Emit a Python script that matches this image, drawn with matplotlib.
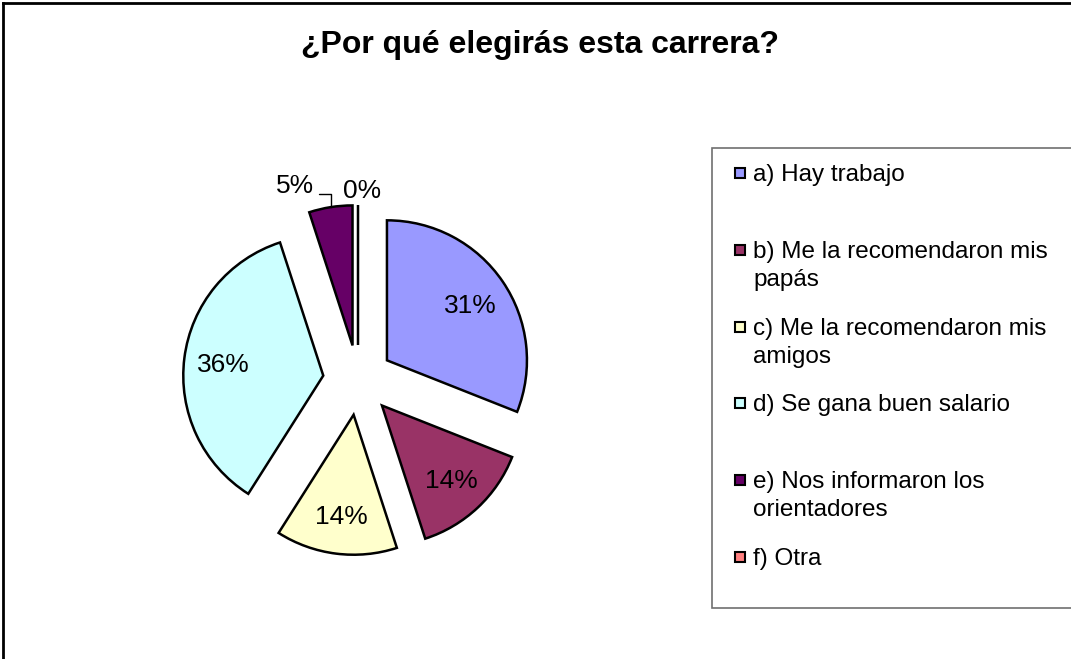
import numpy as np
import matplotlib
matplotlib.use('Agg')
import matplotlib.pyplot as plt
from matplotlib.patches import Rectangle
from matplotlib.lines import Line2D

plt.rcParams['font.family'] = ['Liberation Sans', 'DejaVu Sans']

# data
labels = ['a) Hay trabajo',
          'b) Me la recomendaron mis\npapás',
          'c) Me la recomendaron mis\namigos',
          'd) Se gana buen salario',
          'e) Nos informaron los\norientadores',
          'f) Otra']
values = [31, 14, 14, 36, 5, 0]
colors = ['#9999FF', '#993366', '#FFFFCC', '#CCFFFF', '#660066', '#FF8080']
title = '¿Por qué elegirás esta carrera?'

W, H = 1071, 659
fig = plt.figure(figsize=(W / 100, H / 100), dpi=100)

def fx(x):
    return x / W

def fy(y):
    return 1 - y / H

# outer chart border (only left and top visible)
fig.add_artist(Line2D([fx(3), fx(3)], [fy(3), 0], color='black', lw=2))
fig.add_artist(Line2D([fx(3), 1], [fy(3), fy(3)], color='black', lw=2))

fig.text(fx(540), fy(45), title, ha='center', va='center',
         fontsize=23, fontweight='bold')

# pie axes: centre at (358, 380) px, radius 140 px
cx, cy, R = 358, 380, 140
ax = fig.add_axes([fx(cx - 2 * R), fy(cy + 2 * R), 4 * R / W, 4 * R / H])

wedges, texts, autotexts = ax.pie(
    values, colors=colors, startangle=90, counterclock=False,
    explode=[0.25] * len(values), radius=1,
    autopct=lambda p: f'{p:.0f}%', pctdistance=0.72,
    wedgeprops=dict(edgecolor='black', linewidth=1.8),
    textprops=dict(fontsize=19, color='black'))
ax.set_xlim(-2, 2)
ax.set_ylim(-2, 2)
ax.axis('off')
for t in autotexts:
    t.set_va('center_baseline')

# small slices: move labels outside
e = wedges[4]
bis = np.deg2rad((e.theta1 + e.theta2) / 2)
ex, ey = 0.25 * np.cos(bis), 0.25 * np.sin(bis)
edge = (ex + np.cos(bis), ey + np.sin(bis))
lab5 = (1.46 * np.cos(bis + np.deg2rad(9)), 1.46 * np.sin(bis + np.deg2rad(9)))
autotexts[4].set_visible(False)
ax.annotate(autotexts[4].get_text(), xy=edge, xytext=lab5,
            ha='center', va='center', fontsize=19,
            arrowprops=dict(arrowstyle='-', color='black', lw=1,
                            relpos=(1.0, 0.15), patchA=None,
                            connectionstyle='angle,angleA=0,angleB=90,rad=0',
                            shrinkA=4, shrinkB=0))
f = wedges[5]
bisf = np.deg2rad((f.theta1 + f.theta2) / 2)
autotexts[5].set_position((1.37 * np.cos(bisf) + 0.03, 1.37 * np.sin(bisf)))

# legend box drawn by hand
fig.add_artist(Rectangle((fx(712), fy(608)), fx(1080) - fx(712), fy(148) - fy(608),
                         transform=fig.transFigure, facecolor='white',
                         edgecolor='#707070', lw=1.2))
step = 76.8
for i, (lab, col) in enumerate(zip(labels, colors)):
    yc = 173 + step * i
    fig.add_artist(Rectangle((fx(735), fy(yc + 5)), 10 / W, 10 / H,
                             transform=fig.transFigure, facecolor=col,
                             edgecolor='black', lw=1.5))
    fig.text(fx(753), fy(yc - 9), lab, ha='left', va='top',
             fontsize=17.5, linespacing=1.35)

fig.savefig('out.png', dpi=100)
